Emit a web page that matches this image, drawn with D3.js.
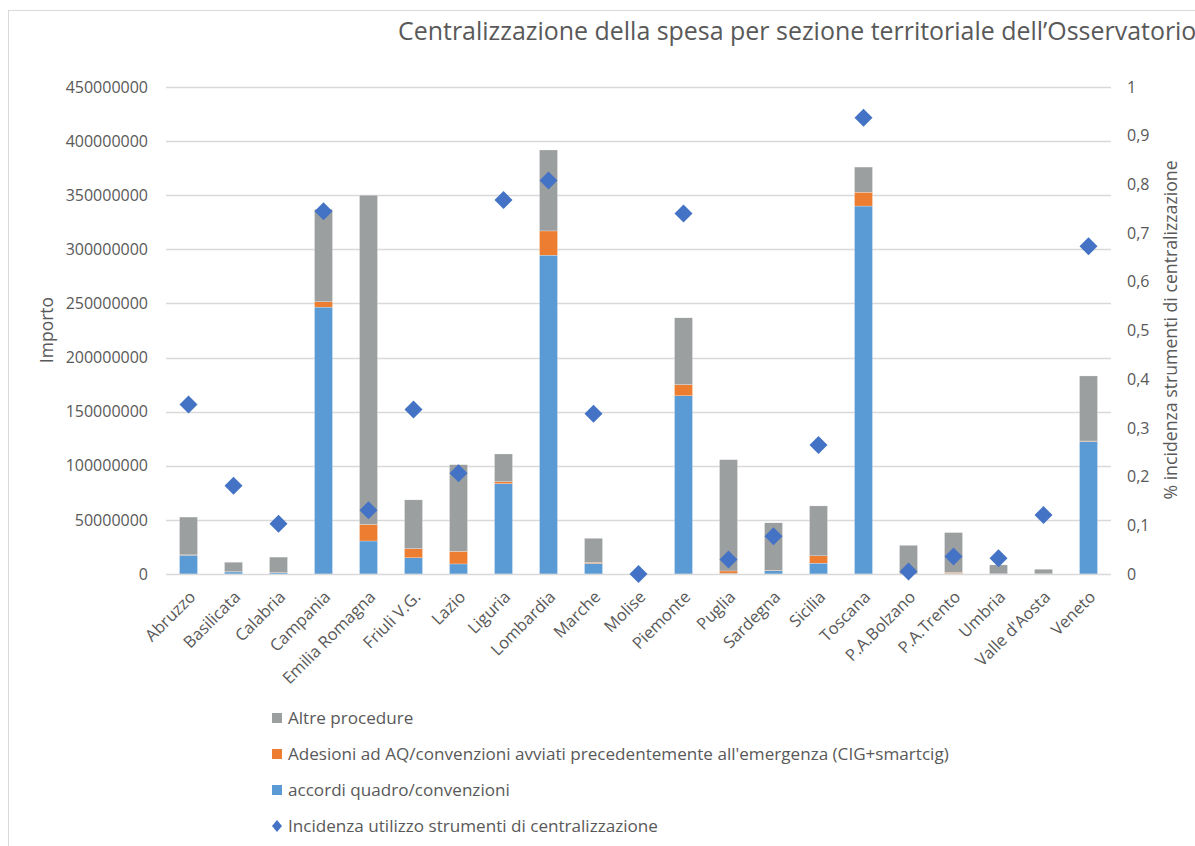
<!DOCTYPE html>
<html>
<head>
<meta charset="utf-8">
<script src="https://cdn.jsdelivr.net/npm/d3@7"></script>
<style>
  html, body { margin: 0; padding: 0; background: #fff; }
  svg text { font-family: "Open Sans", "Noto Sans", sans-serif; fill: #595959; }
</style>
</head>
<body>
<svg id="chart" width="1195" height="846"></svg>
<script>
const categories = ["Abruzzo","Basilicata","Calabria","Campania","Emilia Romagna","Friuli V.G.","Lazio","Liguria","Lombardia","Marche","Molise","Piemonte","Puglia","Sardegna","Sicilia","Toscana","P.A.Bolzano","P.A.Trento","Umbria","Valle d'Aosta","Veneto"];
// accordi quadro/convenzioni
const accordi = [17400000,1900000,1200000,246600000,30500000,15000000,9300000,83500000,294600000,9700000,0,164700000,500000,3000000,10000000,340000000,0,500000,0,0,122500000];
// Adesioni ad AQ/convenzioni avviati precedentemente all'emergenza
const adesioni = [300000,200000,100000,5000000,15300000,8400000,11600000,1800000,22400000,900000,0,10300000,2300000,400000,6800000,12800000,0,1000000,100000,100000,400000];
// Altre procedure
const altre = [34900000,8800000,14300000,85400000,304200000,45100000,80100000,25600000,74800000,22400000,0,61700000,102800000,43900000,46100000,23200000,26500000,36800000,8300000,4300000,60100000];
// Incidenza utilizzo strumenti di centralizzazione
const incidenza = [0.348,0.181,0.103,0.745,0.131,0.338,0.207,0.768,0.808,0.329,0.0,0.740,0.030,0.0775,0.265,0.937,0.005,0.036,0.0325,0.121,0.673];

const leftTicks = [0,50000000,100000000,150000000,200000000,250000000,300000000,350000000,400000000,450000000];
const rightTicks = [0,0.1,0.2,0.3,0.4,0.5,0.6,0.7,0.8,0.9,1];
const rightTickLabels = ["0","0,1","0,2","0,3","0,4","0,5","0,6","0,7","0,8","0,9","1"];

const seriesNames = ["accordi quadro/convenzioni","Adesioni ad AQ/convenzioni avviati precedentemente all'emergenza (CIG+smartcig)","Altre procedure"];
const lineName = "Incidenza utilizzo strumenti di centralizzazione";
const titleText = "Centralizzazione della spesa per sezione territoriale dell\u2019Osservatorio";
const leftTitle = "Importo";
const rightTitle = "% incidenza strumenti di centralizzazione";

const colors = { accordi: "#5B9BD5", adesioni: "#ED7D31", altre: "#9C9FA0", diamond: "#4472C4", grid: "#D9D9D9" };

const svg = d3.select("#chart");
const m = { left: 166, right: 1111, top: 87, bottom: 574 };

// chart border
svg.append("rect").attr("x", 8.5).attr("y", 10.5).attr("width", 1300).attr("height", 900)
  .attr("fill", "none").attr("stroke", "#D9D9D9").attr("stroke-width", 1);

const x = d3.scaleBand().domain(categories).range([m.left, m.right]).paddingInner(0.6).paddingOuter(0.3);
const y = d3.scaleLinear().domain([0, 450000000]).range([m.bottom, m.top]);
const y2 = d3.scaleLinear().domain([0, 1]).range([m.bottom, m.top]);

// gridlines
svg.append("g").selectAll("line").data(leftTicks.slice(1)).join("line")
  .attr("x1", m.left).attr("x2", m.right)
  .attr("y1", d => Math.round(y(d)) + 0.5).attr("y2", d => Math.round(y(d)) + 0.5)
  .attr("stroke", colors.grid).attr("stroke-width", 1.4);

// left axis
const yAxis = d3.axisLeft(y).tickValues(leftTicks).tickFormat(d3.format("d")).tickSize(0).tickPadding(18);
const gy = svg.append("g").attr("transform", `translate(${m.left},0)`).call(yAxis);
gy.select(".domain").remove();
gy.selectAll("text").style("font-size", "16px").attr("fill", "#595959");

// right axis
const y2Axis = d3.axisRight(y2).tickValues(rightTicks).tickFormat((d, i) => rightTickLabels[i]).tickSize(0).tickPadding(16);
const gy2 = svg.append("g").attr("transform", `translate(${m.right},0)`).call(y2Axis);
gy2.select(".domain").remove();
gy2.selectAll("text").style("font-size", "16px").attr("fill", "#595959");

// stacked bars
const rows = categories.map((c, i) => ({ cat: c, accordi: accordi[i], adesioni: adesioni[i], altre: altre[i] }));
const keys = ["accordi", "adesioni", "altre"];
const stack = d3.stack().keys(keys)(rows);
svg.append("g").selectAll("g").data(stack).join("g")
  .attr("fill", d => colors[d.key])
  .selectAll("rect").data(d => d).join("rect")
  .attr("x", d => x(d.data.cat)).attr("width", x.bandwidth())
  .attr("y", d => y(d[1])).attr("height", d => Math.max(0, y(d[0]) - y(d[1])))
  .attr("stroke", "#fff").attr("stroke-width", 0.4).attr("stroke-opacity", 0.6);

// x axis baseline
svg.append("line").attr("x1", m.left).attr("x2", m.right).attr("y1", m.bottom + 0.5).attr("y2", m.bottom + 0.5)
  .attr("stroke", colors.grid).attr("stroke-width", 1.6);

// x axis labels
const xAxis = d3.axisBottom(x).tickSize(0).tickPadding(0);
const gx = svg.append("g").attr("transform", `translate(0,${m.bottom})`).call(xAxis);
gx.select(".domain").remove();
gx.selectAll("text")
  .style("font-size", "16.5px").attr("fill", "#595959")
  .attr("text-anchor", "end").attr("dy", null).attr("y", 0)
  .attr("transform", "translate(8,24) rotate(-45)");

// diamonds
const dsz = 9;
svg.append("g").selectAll("path").data(incidenza).join("path")
  .attr("d", `M0,${-dsz}L${dsz},0L0,${dsz}L${-dsz},0Z`)
  .attr("transform", (d, i) => `translate(${x(categories[i]) + x.bandwidth() / 2},${y2(d)})`)
  .attr("fill", colors.diamond);

// axis titles
svg.append("text").attr("transform", "translate(53,330) rotate(-90)").attr("text-anchor", "middle")
  .style("font-size", "17.5px").text(leftTitle);
svg.append("text").attr("transform", "translate(1177,330) rotate(-90)").attr("text-anchor", "middle")
  .style("font-size", "17.7px").text(rightTitle);

// title
const title = svg.append("text").attr("x", 398).attr("y", 40).style("font-size", "21px").text(titleText);
(function fit(sel, target) {
  const w = sel.node().getComputedTextLength();
  const fs = parseFloat(sel.style("font-size"));
  sel.style("font-size", (fs * target / w) + "px");
})(title, 799);

// legend
const legendItems = [
  { name: seriesNames[2], color: colors.altre, type: "rect" },
  { name: seriesNames[1], color: colors.adesioni, type: "rect" },
  { name: seriesNames[0], color: colors.accordi, type: "rect" },
  { name: lineName, color: colors.diamond, type: "diamond" }
];
const lg = svg.append("g").selectAll("g").data(legendItems).join("g")
  .attr("transform", (d, i) => `translate(272,${718 + i * 36})`);
lg.filter(d => d.type === "rect").append("rect").attr("x", 0).attr("y", -5).attr("width", 10).attr("height", 10).attr("fill", d => d.color);
lg.filter(d => d.type === "diamond").append("path").attr("d", "M5,-6L10,0L5,6L0,0Z").attr("fill", d => d.color);
const lt = lg.append("text").attr("x", 16).attr("y", 0).attr("dy", "0.35em").style("font-size", "15px").text(d => d.name);
{
  const node = lt.filter((d, i) => i === 1).node();
  const w = node.getComputedTextLength();
  const fs = 15 * 661 / w;
  lt.style("font-size", fs + "px");
}
</script>
</body>
</html>
